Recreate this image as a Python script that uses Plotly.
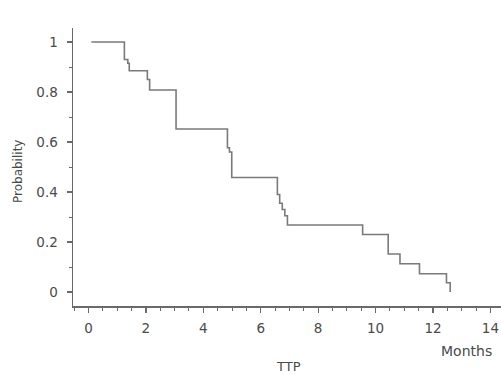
import plotly.graph_objects as go

# Kaplan-Meier style step data (time to progression, months)
months = [0.1, 1.25, 1.37, 1.42, 2.05, 2.13, 3.05, 4.84, 4.91, 4.99,
          6.58, 6.66, 6.75, 6.84, 6.93, 9.55, 10.44, 10.85, 11.53, 12.47, 12.6]
probability = [1.0, 0.93, 0.915, 0.885, 0.85, 0.808, 0.652, 0.577, 0.56, 0.458,
               0.39, 0.355, 0.33, 0.305, 0.268, 0.23, 0.152, 0.113, 0.073, 0.037, 0.0]

x_ticks = [0, 2, 4, 6, 8, 10, 12, 14]
y_ticks = [0, 0.2, 0.4, 0.6, 0.8, 1]

W, H = 501, 375
L, R, T = 73, 0, 28
B = H - T - 278

TEXT = "#4a4a4a"
AXIS = "#6a6a6a"
FONT = "DejaVu Sans"

def px_x(x):
    return (x - L) / (W - L - R)

def px_y(y):
    return (H - B - y) / (H - T - B)

fig = go.Figure()
fig.add_trace(go.Scatter(
    x=months, y=probability, mode="lines",
    line=dict(shape="hv", color="#7a7a7a", width=1.6),
    showlegend=False, hoverinfo="skip",
))

fig.update_layout(
    width=W, height=H,
    margin=dict(l=L, r=R, t=T, b=B),
    paper_bgcolor="white", plot_bgcolor="white",
    font=dict(family=FONT, size=13, color=TEXT),
    xaxis=dict(
        range=[-0.54, 14.37], tickvals=x_ticks, ticktext=[str(v) for v in x_ticks],
        showgrid=False, zeroline=False, showline=True, linecolor=AXIS, linewidth=1.5,
        ticks="outside", ticklen=5, tickwidth=1.2, tickcolor=AXIS,
        minor=dict(dtick=0.5, tick0=0, ticks="outside", ticklen=3, tickwidth=1, tickcolor=AXIS, showgrid=False),
        tickfont=dict(family=FONT, size=13.5, color=TEXT),
        ticklabelstandoff=4, ticklabeloverflow="allow",
    ),
    yaxis=dict(
        range=[-0.056, 1.056], tickvals=y_ticks,
        ticktext=["0", "0.2", "0.4", "0.6", "0.8", "1"],
        showgrid=False, zeroline=False, showline=True, linecolor=AXIS, linewidth=1.5,
        ticks="outside", ticklen=5, tickwidth=1.2, tickcolor=AXIS,
        minor=dict(dtick=0.1, tick0=0, ticks="outside", ticklen=3, tickwidth=1, tickcolor=AXIS, showgrid=False),
        tickfont=dict(family=FONT, size=13.5, color=TEXT),
        ticklabelstandoff=6,
    ),
    annotations=[
        dict(text="Probability", xref="paper", yref="paper", x=px_x(18), y=px_y(172),
             showarrow=False, textangle=-90,
             font=dict(family=FONT, size=12, color=TEXT), xanchor="center", yanchor="middle"),
        dict(text="Months", xref="paper", yref="paper", x=px_x(466), y=px_y(351),
             showarrow=False,
             font=dict(family=FONT, size=14, color=TEXT), xanchor="center", yanchor="middle"),
        dict(text="TTP", xref="paper", yref="paper", x=px_x(288), y=px_y(366),
             showarrow=False,
             font=dict(family=FONT, size=13, color=TEXT), xanchor="center", yanchor="middle"),
    ],
)

fig.write_html(
    "out.html",
    config={"displayModeBar": False, "staticPlot": True},
    post_script="document.body.style.margin='0';document.body.style.overflow='hidden';"
                "document.documentElement.style.overflow='hidden';",
)
